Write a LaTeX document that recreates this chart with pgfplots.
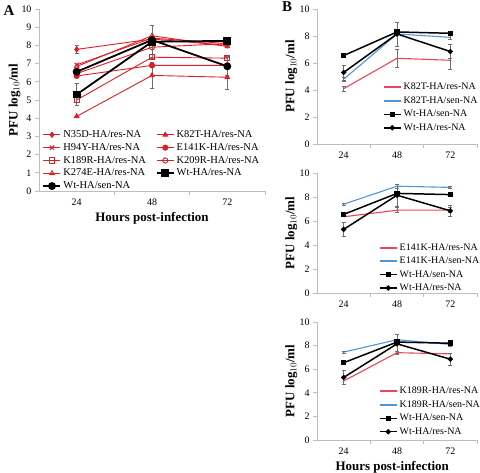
\documentclass[border=0pt]{standalone}
\usepackage{pgfplots}
\pgfplotsset{compat=1.18}
\usepackage{fontspec}
\setmainfont{Liberation Serif}
\definecolor{rd}{RGB}{222,30,38}
\definecolor{pinkline}{RGB}{236,70,95}
\definecolor{blueline}{RGB}{80,150,215}
\definecolor{ax}{RGB}{190,190,190}
\definecolor{ebcol}{RGB}{110,110,110}
\pgfplotsset{
  base/.style={
    scale only axis,
    xmin=0, xmax=3, ymin=0, ymax=10,
    xtick={0.5,1.5,2.5}, xticklabels={24,48,72},
    minor xtick={1,2,3},
    major x tick style={draw=none},
    minor tick length=4bp,
    major tick length=4bp,
    tick align=outside,
    axis x line*=bottom, axis y line*=left,
    axis line style={ax, line width=0.8pt},
    every tick/.style={ax, line width=0.8pt},
    tick label style={font=\fontsize{10}{12}\selectfont},
    /pgf/number format/assume math mode=true,
    label style={font=\fontsize{13}{15}\selectfont\bfseries},
    legend cell align=left,
    legend style={draw=none, fill=none, font=\fontsize{10}{12}\selectfont,
      row sep=1.4bp, inner sep=0pt},
  },
  ebars/.style={error bars/.cd, y dir=both, y explicit,
    error bar style={draw=ebcol, line width=0.6pt},
    error mark options={draw=ebcol, rotate=90, mark size=2bp, line width=0.6pt}},
  rline/.style={rd, solid, line width=0.9pt, mark size=2.6bp, mark options={solid, rd}},
  bline/.style={black, solid, line width=1.8pt, mark size=3bp, mark options={solid, black}},
  bsq/.style={black, solid, line width=1.5pt, mark=square*, mark size=2bp, mark options={solid, black}},
  bci/.style={black, solid, line width=1.5pt, mark=*, mark size=1.8bp, mark options={solid, black}},
  pline/.style={color=pinkline, solid, line width=1.1pt, no marks},
  cline/.style={color=blueline, solid, line width=1.1pt, no marks},
}
\begin{document}
\begin{tikzpicture}
\useasboundingbox (0,0) rectangle (480bp,473bp);
\node[font=\fontsize{15}{17}\selectfont\bfseries] at (9bp,462bp) {A};
\node[font=\fontsize{15}{17}\selectfont\bfseries] at (287bp,466bp) {B};
% Panel A
\begin{axis}[base, at={(39bp,282bp)}, anchor=south west,
  width=226bp, height=182bp, ytick={0,1,...,10},
  xlabel={Hours post-infection}, ylabel={PFU log$_{10}$/ml},
  xlabel style={at={(axis description cs:0.5,-0.15)}, anchor=center},
  ylabel style={at={(axis description cs:-0.108,0.5)}, anchor=center},
  legend columns=2,
  legend style={at={(axis description cs:0.015,0.344)}, anchor=north west,
    font=\fontsize{10.5}{12}\selectfont, row sep=0.4pt},
  /tikz/every even column/.append style={column sep=8bp},
]
\addplot[rline, mark=diamond*, mark options={fill=rd}, forget plot, ebars] coordinates {(0.5,7.78) +- (0,0.2) (1.5,8.35) (2.5,8.0)};
\addplot[rline, mark=triangle*, mark options={fill=rd}, forget plot, ebars] coordinates {(0.5,4.1) (1.5,6.35) +- (0,0.7) (2.5,6.25) +- (0,0.65)};
\addplot[rline, mark=x, mark size=3bp, forget plot, ebars] coordinates {(0.5,6.93) (1.5,8.4) (2.5,8.1)};
\addplot[rline, mark=*, mark options={fill=rd}, forget plot, ebars] coordinates {(0.5,6.32) (1.5,6.9) (2.5,6.9)};
\addplot[rline, mark=square, mark options={fill=white}, forget plot, ebars] coordinates {(0.5,5.0) +- (0,0.3) (1.5,7.35) (2.5,7.3) +- (0,0.1)};
\addplot[rline, mark=o, mark options={fill=white}, forget plot, ebars] coordinates {(0.5,6.45) (1.5,7.9) (2.5,8.1)};
\addplot[rline, mark=triangle, mark options={fill=white}, forget plot, ebars] coordinates {(0.5,6.84) (1.5,8.53) (2.5,7.94)};
\addplot[bline, mark=square*, mark options={fill=black}, forget plot, ebars] coordinates {(0.5,5.3) +- (0,0.6) (1.5,8.2) +- (0,0.9) (2.5,8.25)};
\addplot[bline, mark=*, mark options={fill=black}, forget plot, ebars] coordinates {(0.5,6.55) (1.5,8.3) (2.5,6.85) +- (0,0.5)};
\addlegendimage{rline, mark=diamond*, mark options={fill=rd}}
\addlegendentry{N35D-HA/res-NA}
\addlegendimage{rline, mark=triangle*, mark options={fill=rd}}
\addlegendentry{K82T-HA/res-NA}
\addlegendimage{rline, mark=x, mark size=3bp}
\addlegendentry{H94Y-HA/res-NA}
\addlegendimage{rline, mark=*, mark options={fill=rd}}
\addlegendentry{E141K-HA/res-NA}
\addlegendimage{rline, mark=square, mark options={fill=white}}
\addlegendentry{K189R-HA/res-NA}
\addlegendimage{rline, mark=o, mark options={fill=white}}
\addlegendentry{K209R-HA/res-NA}
\addlegendimage{rline, mark=triangle, mark options={fill=white}}
\addlegendentry{K274E-HA/res-NA}
\addlegendimage{bline, mark=square*, mark options={fill=black}}
\addlegendentry{Wt-HA/res-NA}
\addlegendimage{bline, mark=*, mark options={fill=black}}
\addlegendentry{Wt-HA/sen-NA}
\end{axis}
% Panel B top
\begin{axis}[base, at={(317bp,329bp)}, anchor=south west,
  width=160bp, height=135bp, ytick={0,2,...,10},
  ylabel={PFU log$_{10}$/ml},
  ylabel style={at={(axis description cs:-0.16,0.5)}, anchor=center},
  legend style={at={(axis description cs:0.41,0.466)}, anchor=north west},
]
\addplot[pline, forget plot, ebars] coordinates {(0.5,4.1) +- (0,0.2) (1.5,6.35) +- (0,0.7) (2.5,6.2) +- (0,0.65)};
\addplot[cline, forget plot, ebars] coordinates {(0.5,4.8) +- (0,0.15) (1.5,8.15) (2.5,7.9) +- (0,0.15)};
\addplot[bsq, forget plot, ebars] coordinates {(0.5,6.55) (1.5,8.3) (2.5,8.2) +- (0,0.15)};
\addplot[bci, forget plot, ebars] coordinates {(0.5,5.3) +- (0,0.55) (1.5,8.15) +- (0,0.9) (2.5,6.85) +- (0,0.5)};
\addlegendimage{pline, line width=1.9pt}
\addlegendentry{K82T-HA/res-NA}
\addlegendimage{cline, line width=1.9pt}
\addlegendentry{K82T-HA/sen-NA}
\addlegendimage{bsq}
\addlegendentry{Wt-HA/sen-NA}
\addlegendimage{bci}
\addlegendentry{Wt-HA/res-NA}
\end{axis}
% Panel B middle
\begin{axis}[base, at={(317bp,180bp)}, anchor=south west,
  width=160bp, height=120bp, ytick={0,2,...,10},
  ylabel={PFU log$_{10}$/ml},
  ylabel style={at={(axis description cs:-0.16,0.5)}, anchor=center},
  legend style={at={(axis description cs:0.385,0.43)}, anchor=north west},
]
\addplot[pline, forget plot, ebars] coordinates {(0.5,6.35) (1.5,6.9) +- (0,0.2) (2.5,6.9) +- (0,0.2)};
\addplot[cline, forget plot, ebars] coordinates {(0.5,7.4) +- (0,0.1) (1.5,8.9) +- (0,0.15) (2.5,8.8) +- (0,0.1)};
\addplot[bsq, forget plot, ebars] coordinates {(0.5,6.55) (1.5,8.3) (2.5,8.2) +- (0,0.15)};
\addplot[bci, forget plot, ebars] coordinates {(0.5,5.3) +- (0,0.6) (1.5,8.15) +- (0,0.9) (2.5,6.85) +- (0,0.45)};
\addlegendimage{pline, line width=1.9pt}
\addlegendentry{E141K-HA/res-NA}
\addlegendimage{cline, line width=1.9pt}
\addlegendentry{E141K-HA/sen-NA}
\addlegendimage{bsq}
\addlegendentry{Wt-HA/sen-NA}
\addlegendimage{bci}
\addlegendentry{Wt-HA/res-NA}
\end{axis}
% Panel B bottom
\begin{axis}[base, at={(317bp,33bp)}, anchor=south west,
  width=160bp, height=118bp, ytick={0,2,...,10},
  xlabel={Hours post-infection}, ylabel={PFU log$_{10}$/ml},
  xlabel style={at={(axis description cs:0.47,-0.23)}, anchor=center},
  ylabel style={at={(axis description cs:-0.16,0.5)}, anchor=center},
  legend style={at={(axis description cs:0.385,0.466)}, anchor=north west},
]
\addplot[pline, forget plot, ebars] coordinates {(0.5,5.0) +- (0,0.3) (1.5,7.4) +- (0,0.15) (2.5,7.3)};
\addplot[cline, forget plot, ebars] coordinates {(0.5,7.45) +- (0,0.08) (1.5,8.5) (2.5,8.1) +- (0,0.15)};
\addplot[bsq, forget plot, ebars] coordinates {(0.5,6.55) (1.5,8.3) (2.5,8.2) +- (0,0.15)};
\addplot[bci, forget plot, ebars] coordinates {(0.5,5.3) +- (0,0.6) (1.5,8.15) +- (0,0.8) (2.5,6.85) +- (0,0.5)};
\addlegendimage{pline, line width=1.9pt}
\addlegendentry{K189R-HA/res-NA}
\addlegendimage{cline, line width=1.9pt}
\addlegendentry{K189R-HA/sen-NA}
\addlegendimage{bsq}
\addlegendentry{Wt-HA/sen-NA}
\addlegendimage{bci}
\addlegendentry{Wt-HA/res-NA}
\end{axis}
\end{tikzpicture}
\end{document}
